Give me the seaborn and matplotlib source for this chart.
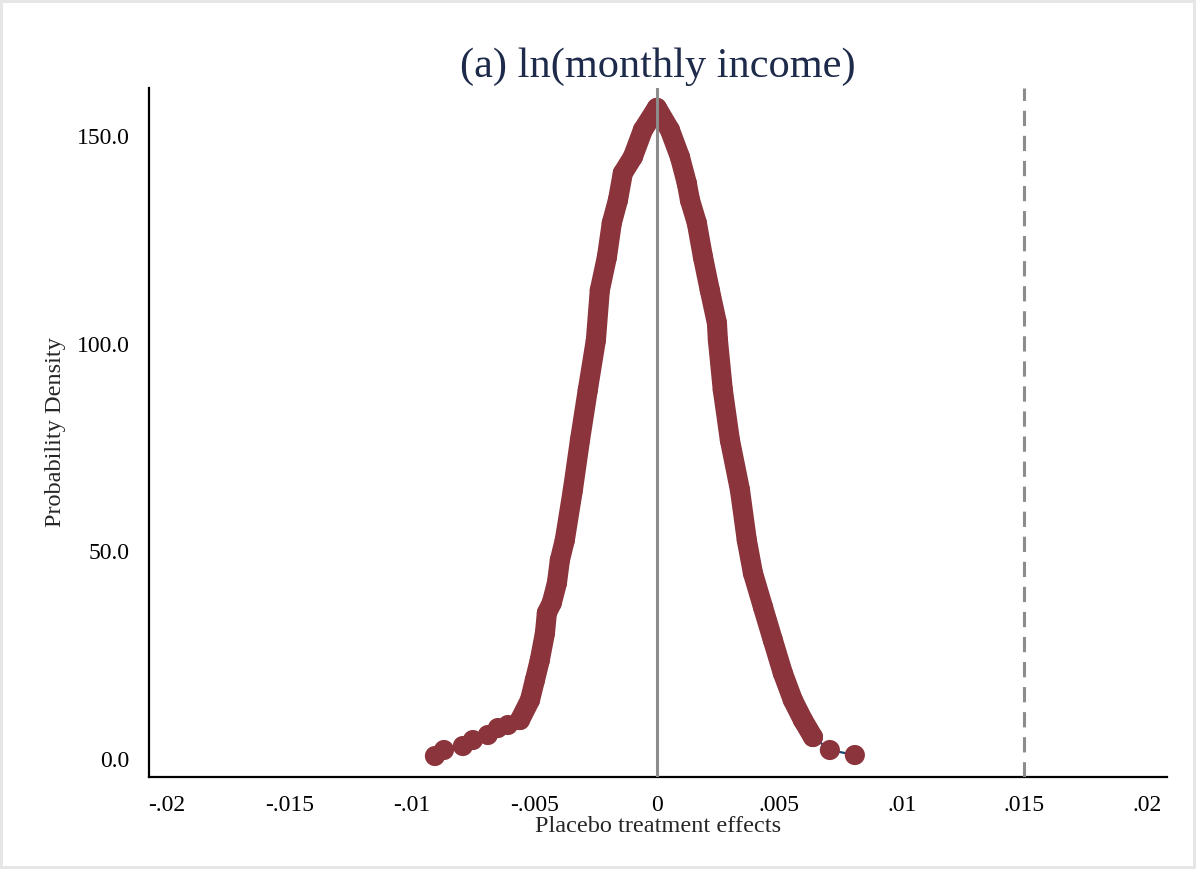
import numpy as np
import pandas as pd
import matplotlib
matplotlib.use("Agg")
import matplotlib.pyplot as plt
import seaborn as sns

# ---- data ----
effect = [-0.00906, -0.00869, -0.00792, -0.00751, -0.00690, -0.00649, -0.00608,
          -0.00559, -0.00518, -0.00498, -0.00478, -0.00457, -0.00449, -0.00429,
          -0.00408, -0.00396, -0.00376, -0.00343, -0.00314, -0.00282, -0.00249,
          -0.00233, -0.00204, -0.00184, -0.00159, -0.00139, -0.00098, -0.00057,
          0.0,
          0.00053, 0.00094, 0.00122, 0.00135, 0.00163, 0.00188, 0.00216, 0.00245,
          0.00249, 0.00269, 0.00298, 0.00339, 0.00367, 0.00392, 0.00433, 0.00473,
          0.00514, 0.00555, 0.00596, 0.00637, 0.00706, 0.00808]
density = [0.72, 2.17, 3.13, 4.57, 5.78, 7.46, 8.19,
           9.39, 14.2, 19.0, 23.8, 30.3, 35.2, 37.6,
           42.4, 47.9, 52.7, 64.8, 76.8, 88.9, 100.9,
           112.9, 120.9, 129.1, 134.6, 141.1, 145.0, 151.5,
           156.8,
           151.5, 145.0, 138.7, 134.6, 129.1, 120.9, 112.9, 105.0,
           100.9, 88.9, 76.8, 64.8, 52.7, 44.8, 36.6, 28.7,
           20.7, 14.2, 9.4, 5.3, 2.17, 0.96]
actual_effect = 0.015
x_ticks = [-0.02, -0.015, -0.01, -0.005, 0, 0.005, 0.01, 0.015, 0.02]
x_tick_labels = ["-.02", "-.015", "-.01", "-.005", "0", ".005", ".01", ".015", ".02"]
y_ticks = [0, 50, 100, 150]
y_tick_labels = ["0.0", "50.0", "100.0", "150.0"]
title = "(a) ln(monthly income)"
x_label = "Placebo treatment effects"
y_label = "Probability Density"

df = pd.DataFrame({"effect": effect, "density": density})
dense = df[(df["effect"] >= -0.0056) & (df["effect"] <= 0.0064)]

sns.set_style("white")
plt.rcParams["font.family"] = ["Liberation Serif", "DejaVu Serif"]

maroon = "#8B343C"
navy = "#1A476F"
gray = "#8C8C8C"

fig = plt.figure(figsize=(11.96, 8.69), dpi=100)
fig.patch.set_facecolor("white")
fig.patch.set_edgecolor("#E6E6E6")
fig.patch.set_linewidth(3)
ax = fig.add_axes([149 / 1196, 1 - 777 / 869, (1167 - 149) / 1196, (777 - 88) / 869])

sns.lineplot(data=df, x="effect", y="density", ax=ax, color=navy, linewidth=1.6,
             sort=False, zorder=2)
sns.lineplot(data=dense, x="effect", y="density", ax=ax, color=maroon, linewidth=14.5,
             sort=False, zorder=3, solid_capstyle="round", solid_joinstyle="round")
sns.scatterplot(data=df, x="effect", y="density", ax=ax, color=maroon, s=210,
                edgecolor="none", linewidth=0, zorder=4)

ax.axvline(0, color=gray, linewidth=2.2, zorder=5)
ax.axvline(actual_effect, color=gray, linewidth=2.2, linestyle=(0, (5, 3.2)), zorder=5)

ax.set_xlim(-0.02073, 0.02082)
ax.set_ylim(-4.33, 161.6)
ax.set_xticks(x_ticks)
ax.set_xticklabels(x_tick_labels)
ax.set_yticks(y_ticks)
ax.set_yticklabels(y_tick_labels)
ax.tick_params(axis="both", direction="out", length=10, width=1.5, labelsize=17,
               colors="black", pad=3)
ax.tick_params(axis="y", pad=4)

for side in ["top", "right"]:
    ax.spines[side].set_visible(False)
for side in ["left", "bottom"]:
    ax.spines[side].set_color("black")
    ax.spines[side].set_linewidth(1.6)

ax.set_xlabel(x_label, fontsize=17.5, labelpad=0)
ax.set_ylabel(y_label, fontsize=17.5, labelpad=8)
ax.set_title(title, fontsize=30.5, color="#1E2A4A", pad=8)

fig.savefig("out.png", dpi=100, facecolor="white", edgecolor="#E6E6E6")
